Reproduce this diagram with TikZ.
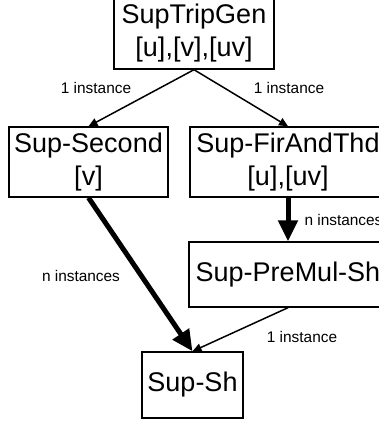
\documentclass[tikz,border=0pt]{standalone}
\usepackage{fontspec}
\setmainfont{Liberation Sans}
\usetikzlibrary{arrows.meta}

\tikzset{
  part/.style={draw,line width=1.4pt,align=center,inner sep=0pt,
    font=\fontsize{27}{33}\selectfont},
  link/.style={line width=1.5pt,-{Triangle[length=9pt,width=8pt]}},
  biglink/.style={line width=5pt,-{Triangle[length=21pt,width=19pt]}},
  count/.style={font=\fontsize{15.4}{18}\selectfont},
}

\begin{document}
\begin{tikzpicture}[x=1pt,y=-1pt]
  \useasboundingbox (0,0) rectangle (379,423);
  \clip (0,0) rectangle (379,423);

  \draw (194,33) node[part,minimum width=160pt,minimum height=72pt] (gen) {SupTripGen\\{}[u],[v],[uv]};
  \draw (88.5,162) node[part,minimum width=159pt,minimum height=70pt] (second) {Sup-Second\\{}[v]};
  \draw (288,162) node[part,minimum width=196pt,minimum height=70pt] (firthd) {Sup-FirAndThd\\{}[u],[uv]};
  \draw (288,274.5) node[part,minimum width=198pt,minimum height=65pt] (premul) {Sup-PreMul-Sh};
  \draw (192.5,385) node[part,minimum width=101pt,minimum height=66pt] (sh) {Sup-Sh};

  \draw[link] (gen.south) -- (second.north);
  \draw[link] (gen.south) -- (firthd.north);
  \draw[biglink] (firthd.south) -- (premul.north);
  \draw[biglink] (second.south) -- (sh.north);
  \draw[link] (premul.south) -- (sh.north);

  \draw (96,88) node[count] (l1) {1 instance};
  \draw (289,88) node[count] (l2) {1 instance};
  \draw (301,220) node[count,anchor=west] (l3) {n instances};
  \draw (81,276) node[count] (l4) {n instances};
  \draw (302,337) node[count] (l5) {1 instance};

\end{tikzpicture}
\end{document}
